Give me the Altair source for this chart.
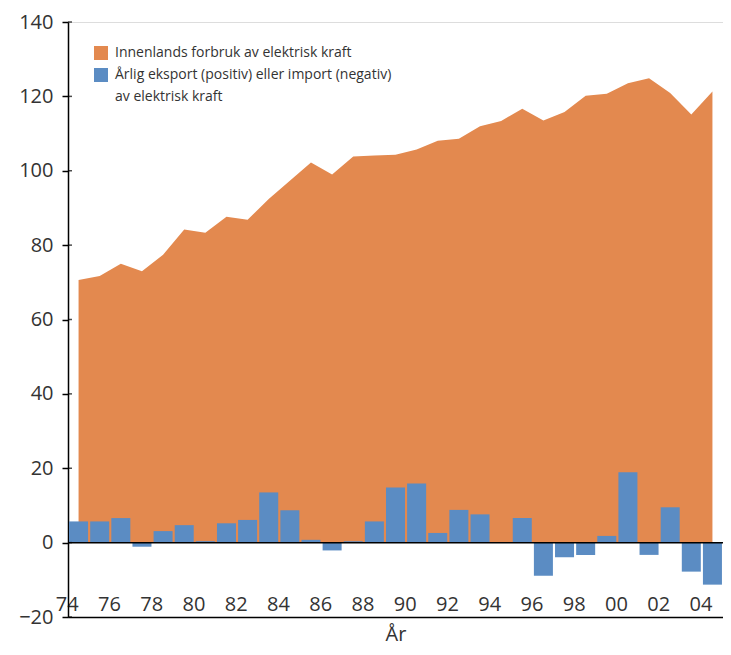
import altair as alt
import pandas as pd

years = list(range(1974, 2005))
consumption = [70.6, 71.7, 75.0, 73.0, 77.4, 84.2, 83.3, 87.6, 86.8, 92.4,
               97.3, 102.2, 99.0, 103.8, 104.1, 104.3, 105.7, 108.1, 108.6, 112.0,
               113.4, 116.7, 113.5, 115.8, 120.2, 120.7, 123.5, 124.9, 120.9, 115.1,
               121.3]
net_export = [5.7, 5.7, 6.6, -1.1, 3.1, 4.7, 0.4, 5.2, 6.1, 13.5,
              8.7, 0.75, -2.1, 0.4, 5.7, 14.8, 15.9, 2.6, 8.8, 7.6,
              0.0, 6.6, -8.9, -3.9, -3.3, 1.8, 18.9, -3.3, 9.5, -7.8,
              -11.3]
y_ticks = [-20, 0, 20, 40, 60, 80, 100, 120, 140]
legend_labels = ["Innenlands forbruk av elektrisk kraft",
                 "Årlig eksport (positiv) eller import (negativ)\nav elektrisk kraft"]
x_title = "År"

ORANGE = "#E3894F"
BLUE = "#5B8CC3"
TXT = "#333333"
FONT = "Open Sans"

df = pd.DataFrame({"year": years, "consumption": consumption, "export": net_export})

x_enc = alt.X("year:O",
              scale=alt.Scale(paddingInner=0.1, paddingOuter=0.05),
              axis=alt.Axis(title=x_title, labelExpr="datum.value % 2 == 0 ? slice(datum.label, 2) : ''",
                            labelAngle=0, tickSize=0, labelPadding=-7, labelBaseline="alphabetic",
                            labelFlush=False, labelOverlap=False, labelFontSize=20, labelColor=TXT,
                            labelFont=FONT, domainColor="black", domainWidth=1.5,
                            titleFont=FONT, titleFontSize=20, titleFontWeight="normal", titleColor=TXT,
                            titleBaseline="alphabetic", titleY=23))
y_scale = alt.Scale(domain=[-20, 140], nice=False, zero=False)
y_axis = alt.Axis(title=None, values=y_ticks, tickSize=6, tickColor="black", tickWidth=1.5,
                  domainColor="black", domainWidth=1.5, labelPadding=9, labelFontSize=20,
                  labelColor=TXT, labelFont=FONT, grid=False)

area = alt.Chart(df).mark_area(color=ORANGE, opacity=1).encode(
    x=alt.X("year:O", bandPosition=0.5),
    y=alt.Y("consumption:Q", scale=y_scale, axis=y_axis),
    y2=alt.datum(0),
)
bars = alt.Chart(df).mark_bar(color=BLUE).encode(
    x=x_enc,
    y=alt.Y("export:Q", scale=y_scale),
    y2=alt.datum(0),
)
zero = alt.Chart(pd.DataFrame({"v": [0]})).mark_rule(color="black", strokeWidth=1.5).encode(
    y=alt.Y("v:Q", scale=y_scale)
)
inner_ticks = alt.Chart(pd.DataFrame({"v": y_ticks})).mark_tick(
    orient="horizontal", size=4, thickness=1.5, color="black"
).encode(
    y=alt.Y("v:Q", scale=y_scale), x=alt.value(2)
)

leg_df1 = pd.DataFrame({"label": [legend_labels[0]]})
leg_df2 = pd.DataFrame({"label": [legend_labels[1]]})
sq1 = alt.Chart(leg_df1).mark_square(color=ORANGE, size=196, opacity=1).encode(
    x=alt.value(33), y=alt.value(31))
sq2 = alt.Chart(leg_df2).mark_square(color=BLUE, size=196, opacity=1).encode(
    x=alt.value(33), y=alt.value(53))
tx1 = alt.Chart(leg_df1).mark_text(align="left", baseline="middle", fontSize=14, font=FONT,
                                   color=TXT).encode(
    text="label:N", x=alt.value(47), y=alt.value(31))
tx2 = alt.Chart(leg_df2).mark_text(align="left", baseline="middle", fontSize=14, font=FONT,
                                   color=TXT, lineBreak="\n", lineHeight=22).encode(
    text="label:N", x=alt.value(47), y=alt.value(53))

chart = alt.layer(area, bars, zero, inner_ticks, sq1, sq2, tx1, tx2).properties(
    width=655, height=595,
    autosize=alt.AutoSizeParams(type="none"),
    padding={"left": 60, "top": 14, "right": 0, "bottom": 29},
).configure_view(stroke=None).configure(background="white")

chart.save("out.html", embed_options={"renderer": "svg", "actions": False})
